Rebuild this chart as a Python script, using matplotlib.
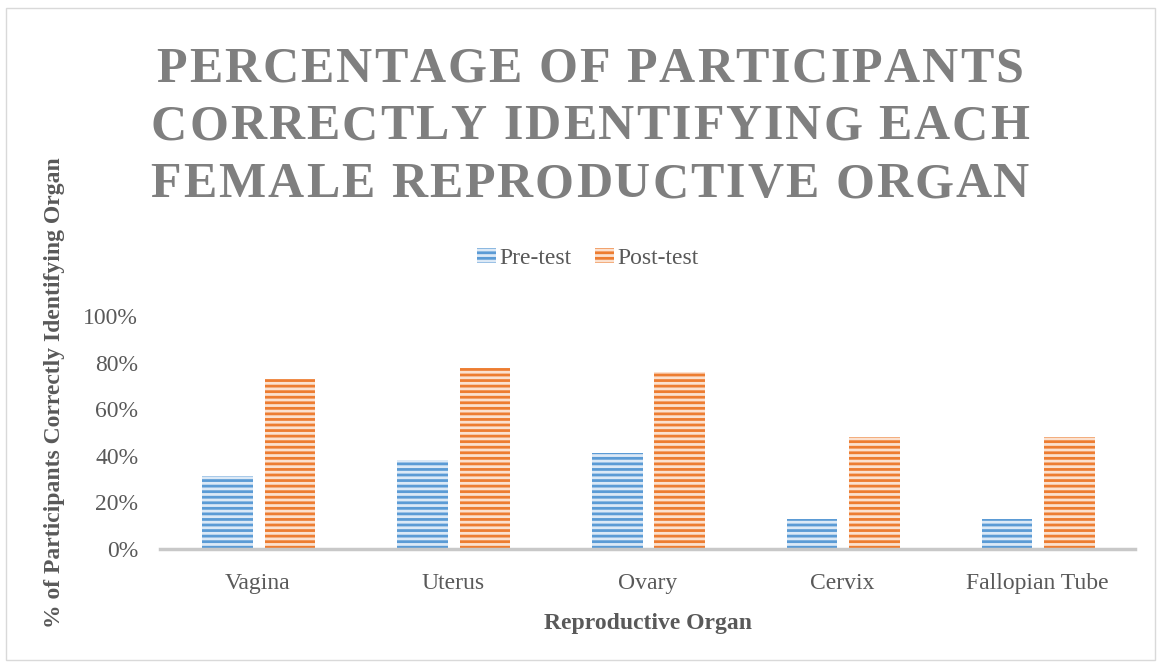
import numpy as np
import matplotlib
matplotlib.use('Agg')
import matplotlib.pyplot as plt
from matplotlib.font_manager import FontProperties
from matplotlib.patches import Rectangle, Patch

# data
organs = ['Vagina', 'Uterus', 'Ovary', 'Cervix', 'Fallopian Tube']
pre_test = [31.5, 38.0, 41.0, 13.0, 13.0]
post_test = [73.0, 77.5, 76.0, 48.0, 48.0]
series_names = ['Pre-test', 'Post-test']
title_lines = ['PERCENTAGE OF PARTICIPANTS',
               'CORRECTLY IDENTIFYING EACH',
               'FEMALE REPRODUCTIVE ORGAN']

W, H = 1161, 667
plt.rcParams['font.family'] = 'Liberation Serif'
plt.rcParams['hatch.linewidth'] = 2.0

blue, blue_bg = '#5B9BD5', '#DCE9F6'
orange, orange_bg = '#ED7D31', '#FBE1CF'
txt = '#595959'

fig = plt.figure(figsize=(W / 100, H / 100), dpi=100)
ax = fig.add_axes([160.5 / W, 1 - 549 / H, 974 / W, 233 / H])

x = np.arange(len(organs))
bw = 0.26
ax.bar(x - 0.155, pre_test, bw, color=blue_bg, edgecolor=blue, linewidth=0, hatch='---')
ax.bar(x + 0.165, post_test, bw, color=orange_bg, edgecolor=orange, linewidth=0, hatch='---')

ax.set_xlim(-0.5, len(organs) - 0.5)
ax.set_ylim(0, 100)
ax.set_yticks(np.arange(0, 101, 20))
ax.set_yticklabels([f'{v}%' for v in range(0, 101, 20)])
ax.set_xticks(x)
ax.set_xticklabels(organs)
ax.tick_params(axis='both', length=0, labelsize=17, labelcolor=txt)
ax.tick_params(axis='y', pad=16)
ax.tick_params(axis='x', pad=17)
for s in ['top', 'right', 'left']:
    ax.spines[s].set_visible(False)
ax.spines['bottom'].set_color('#C8C8C8')
ax.spines['bottom'].set_linewidth(2.5)

ax.set_xlabel('Reproductive Organ', fontsize=17, fontweight='bold', color=txt, labelpad=14)
fig.text(55 / W, 1 - 393 / H, '% of Participants Correctly Identifying Organ',
         rotation=90, fontsize=17, fontweight='bold', color=txt, ha='center', va='center')

handles = [Patch(facecolor=blue_bg, edgecolor=blue, linewidth=0, hatch='---'),
           Patch(facecolor=orange_bg, edgecolor=orange, linewidth=0, hatch='---')]
fig.legend(handles, series_names, loc='center', bbox_to_anchor=(588 / W, 1 - 258 / H),
           ncol=2, frameon=False, fontsize=17, labelcolor=txt,
           handlelength=0.8, handleheight=0.6, handletextpad=0.15, columnspacing=1.0)

# letter-spaced title, one glyph at a time
renderer = fig.canvas.get_renderer()
fp = FontProperties(family='Liberation Serif', weight='bold', size=36)
baselines = [82, 139, 197]
extra = 2.0
for line, yb in zip(title_lines, baselines):
    widths = [renderer.get_text_width_height_descent(c, fp, ismath=False)[0] for c in line]
    total = sum(widths) + extra * (len(line) - 1)
    xpos = 590 - total / 2
    for c, w in zip(line, widths):
        fig.text(xpos / W, 1 - yb / H, c, fontproperties=fp, color='#7F7F7F',
                 ha='left', va='baseline')
        xpos += w + extra

# outer chart border
fig.patches.append(Rectangle((6 / W, 7 / H), 1149 / W, 652 / H, transform=fig.transFigure,
                             fill=False, edgecolor='#D9D9D9', linewidth=1))

fig.savefig('out.png', dpi=100)
